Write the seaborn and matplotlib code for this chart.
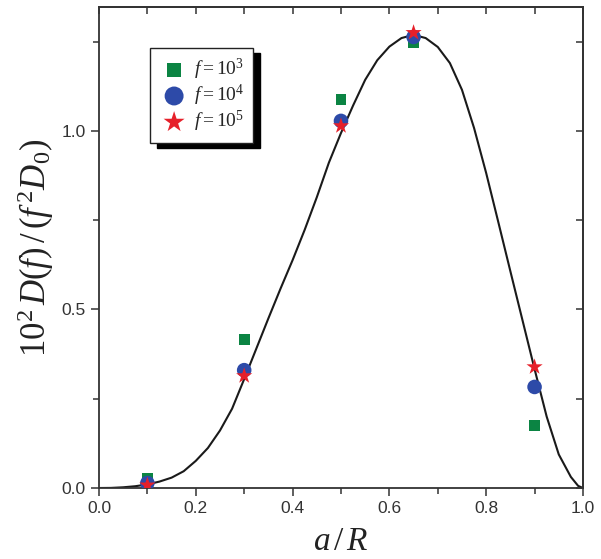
import numpy as np
import pandas as pd
import seaborn as sns
import matplotlib
matplotlib.use("Agg")
import matplotlib.pyplot as plt
from matplotlib.ticker import MultipleLocator, FormatStrFormatter

sns.set_theme(style="white")
plt.rcParams['font.family'] = ['Liberation Sans', 'DejaVu Sans']
plt.rcParams['mathtext.fontset'] = 'custom'
plt.rcParams['mathtext.rm'] = 'Liberation Serif'
plt.rcParams['mathtext.it'] = 'Liberation Serif:italic'

# data points
x_pts = [0.1, 0.3, 0.5, 0.65, 0.9]
y_f3 = [0.028, 0.415, 1.087, 1.246, 0.174]
y_f4 = [0.014, 0.330, 1.028, 1.263, 0.283]
y_f5 = [0.008, 0.314, 1.014, 1.275, 0.339]

# theory curve
curve_x = [0.000, 0.025, 0.050, 0.075, 0.100, 0.125, 0.150, 0.175, 0.200, 0.225,
           0.250, 0.275, 0.300, 0.325, 0.350, 0.375, 0.400, 0.425, 0.450, 0.475,
           0.500, 0.525, 0.550, 0.575, 0.600, 0.625, 0.650, 0.675, 0.700, 0.725,
           0.750, 0.775, 0.800, 0.825, 0.850, 0.875, 0.900, 0.925, 0.950, 0.975,
           0.990, 1.000]
curve_y = [0.000, 0.0003, 0.002, 0.005, 0.010, 0.018, 0.029, 0.047, 0.076, 0.112,
           0.161, 0.222, 0.305, 0.390, 0.475, 0.558, 0.638, 0.723, 0.814, 0.911,
           0.994, 1.071, 1.143, 1.198, 1.236, 1.260, 1.269, 1.260, 1.235, 1.190,
           1.115, 1.008, 0.882, 0.745, 0.607, 0.470, 0.333, 0.200, 0.094, 0.031,
           0.006, 0.000]

labels = [r'$f=10^3$', r'$f=10^4$', r'$f=10^5$']
colors = ['#0b8443', '#2d4aa8', '#e6202a']
markers = ['s', 'o', '*']
sizes = [60, 110, 150]

fig = plt.figure(figsize=(6.01, 5.59), dpi=100)
ax = fig.add_axes([0.1647, 0.127, 0.8053, 0.8605])

sns.lineplot(x=curve_x, y=curve_y, ax=ax, color='#1a1a1a', lw=1.5, sort=False,
             solid_joinstyle='round')

for yv, lab, c, m, s in zip([y_f3, y_f4, y_f5], labels, colors, markers, sizes):
    df = pd.DataFrame({'x': x_pts, 'y': yv})
    sns.scatterplot(data=df, x='x', y='y', ax=ax, color=c, marker=m, s=s,
                    edgecolor='none', label=lab, zorder=3)

ax.set_xlim(0, 1.0)
ax.set_ylim(0, 1.347)
ax.xaxis.set_major_locator(MultipleLocator(0.2))
ax.xaxis.set_minor_locator(MultipleLocator(0.1))
ax.yaxis.set_major_locator(MultipleLocator(0.5))
ax.yaxis.set_minor_locator(MultipleLocator(0.25))
ax.xaxis.set_major_formatter(FormatStrFormatter('%.1f'))
ax.yaxis.set_major_formatter(FormatStrFormatter('%.1f'))

for sp in ax.spines.values():
    sp.set_color('#333333')
    sp.set_linewidth(1.3)

ax.tick_params(which='both', direction='out', color='#333333', width=1.1,
               labelsize=12.5, labelcolor='#333333', bottom=True, left=True,
               top=False, right=False)
ax.tick_params(which='major', length=6)
ax.tick_params(which='minor', length=4)

# mirror ticks inward on top/right
ax2 = ax.secondary_xaxis('top')
ax2.set_xticks(np.arange(0, 1.01, 0.1))
ax2.tick_params(direction='in', length=5, width=1.1, color='#333333', labeltop=False)
ax2.set_xticklabels([])
ax3 = ax.secondary_yaxis('right')
ax3.set_yticks(np.arange(0, 1.35, 0.25))
ax3.tick_params(direction='in', length=5, width=1.1, color='#333333', labelright=False)
ax3.set_yticklabels([])

ax.set_xlabel(r'$a\,/\,R$', fontsize=24, color='#222222', labelpad=7)
ax.set_ylabel(r'$10^2\,D(f)\,/\,(f^{\,2}D_0)$', fontsize=25, color='#222222', labelpad=4)

leg = ax.legend(loc='upper left', bbox_to_anchor=(0.105, 0.915), frameon=True,
                fancybox=False, shadow={'color': 'black', 'alpha': 1.0, 'ox': 5, 'oy': -4},
                edgecolor='#222222', fontsize=14, handletextpad=0.2,
                borderpad=0.45, labelspacing=0.05, borderaxespad=0,
                handlelength=1.6, markerscale=1.3)
leg.get_frame().set_linewidth(1.0)

fig.savefig('out.png', dpi=100)
